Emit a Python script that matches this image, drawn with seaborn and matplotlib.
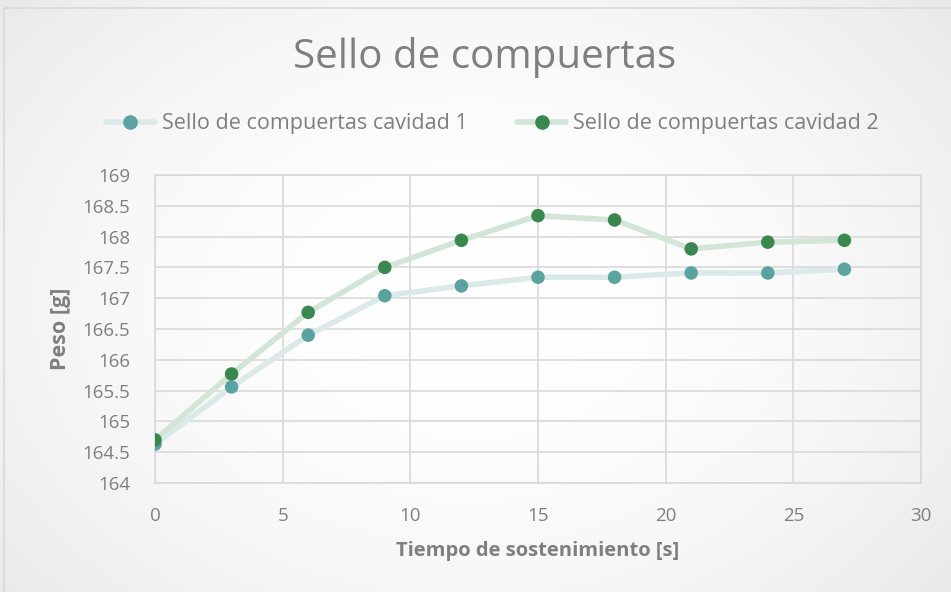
import numpy as np
import pandas as pd
import matplotlib
matplotlib.use("Agg")
import matplotlib.pyplot as plt
from matplotlib.lines import Line2D
from matplotlib.patches import Rectangle
import seaborn as sns

# Data
tiempo = [0, 3, 6, 9, 12, 15, 18, 21, 24, 27]
cavidad_1 = [164.63, 165.56, 166.40, 167.04, 167.20, 167.34, 167.34, 167.41, 167.41, 167.47]
cavidad_2 = [164.70, 165.77, 166.77, 167.50, 167.94, 168.34, 168.27, 167.80, 167.91, 167.94]
series_names = ["Sello de compuertas cavidad 1", "Sello de compuertas cavidad 2"]
x_ticks = [0, 5, 10, 15, 20, 25, 30]
y_ticks = [164, 164.5, 165, 165.5, 166, 166.5, 167, 167.5, 168, 168.5, 169]
y_tick_labels = ["164", "164.5", "165", "165.5", "166", "166.5", "167", "167.5", "168", "168.5", "169"]

df = pd.DataFrame({
    "tiempo": tiempo * 2,
    "peso": cavidad_1 + cavidad_2,
    "serie": [series_names[0]] * len(tiempo) + [series_names[1]] * len(tiempo),
})

sns.set_theme(style="white")
plt.rcParams["font.family"] = ["Open Sans", "DejaVu Sans"]

line_colors = {series_names[0]: "#dbe9e9", series_names[1]: "#d3e5d6"}
marker_colors = {series_names[0]: "#5ba3a0", series_names[1]: "#3a8850"}
text_gray = "#7f7f7f"

fig = plt.figure(figsize=(9.51, 5.92), dpi=100)

# Radial background shading
bg = fig.add_axes([0, 0, 1, 1], zorder=-10)
yy, xx = np.mgrid[0:592, 0:951]
r = np.sqrt(((xx - 470) / 560.0) ** 2 + ((yy - 300) / 420.0) ** 2)
shade = 1.0 - 0.07 * np.clip(r, 0, 1.2) ** 2
bg.imshow(np.dstack([shade, shade, shade]), aspect="auto", extent=[0, 951, 592, 0])
bg.add_patch(Rectangle((4, 8), 960, 600, fill=False, edgecolor="#d9d9d9", linewidth=1.2))
bg.set_xlim(0, 951)
bg.set_ylim(592, 0)
bg.axis("off")

ax = fig.add_axes([155 / 951, 1 - 483 / 592, (921 - 155) / 951, (483 - 175) / 592])
ax.set_facecolor("none")

sns.lineplot(data=df, x="tiempo", y="peso", hue="serie", palette=line_colors,
             linewidth=4.0, ax=ax, legend=False, zorder=2, solid_capstyle="round")
sns.scatterplot(data=df, x="tiempo", y="peso", hue="serie", palette=marker_colors,
                s=95, edgecolor="none", ax=ax, legend=False, zorder=3)

ax.set_xlim(0, 30)
ax.set_ylim(164, 169)
ax.set_xticks(x_ticks)
ax.set_yticks(y_ticks)
ax.set_yticklabels(y_tick_labels)
ax.grid(True, color="#d9d9d9", linewidth=1.2)
ax.set_axisbelow(True)
for side in ["top", "right", "left", "bottom"]:
    ax.spines[side].set_visible(True)
    ax.spines[side].set_color("#d9d9d9")
    ax.spines[side].set_linewidth(1.2)
ax.tick_params(axis="both", length=0, labelsize=13.5, labelcolor=text_gray)
ax.tick_params(axis="x", pad=17)
ax.tick_params(axis="y", pad=18)

ax.set_xlabel("Tiempo de sostenimiento [s]", fontsize=14.5, fontweight="bold",
              color=text_gray, labelpad=12)
ax.set_ylabel("Peso [g]", fontsize=15.5, fontweight="bold", color=text_gray, labelpad=8)

fig.text(485 / 951, 1 - 57 / 592, "Sello de compuertas", ha="center", va="center",
         fontsize=29, color=text_gray)

handles = [
    Line2D([0], [0], color=line_colors[n], linewidth=4.0, marker="o", markersize=9.5,
           markerfacecolor=marker_colors[n], markeredgecolor=marker_colors[n])
    for n in series_names
]
fig.legend(handles, series_names, loc="center", bbox_to_anchor=(492 / 951, 1 - 124 / 592),
           ncol=2, frameon=False, fontsize=15.5, labelcolor=text_gray,
           handlelength=2.3, columnspacing=2.3, handletextpad=0.3)

fig.savefig("out.png", dpi=100)
